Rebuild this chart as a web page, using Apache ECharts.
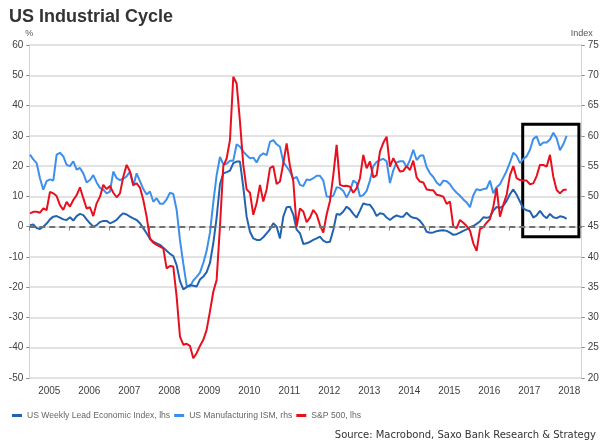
<!DOCTYPE html>
<html>
<head>
<meta charset="utf-8">
<script src="https://cdn.jsdelivr.net/npm/echarts@6/dist/echarts.min.js"></script>
<style>
html,body{margin:0;padding:0;background:#fff;}
#c{width:608px;height:448px;}
</style>
</head>
<body>
<div id="c"></div>
<script>
// Monthly observations, Jan 2005 .. Jun 2018
var startYear = 2005;
var yearLabels = [2005,2006,2007,2008,2009,2010,2011,2012,2013,2014,2015,2016,2017,2018];

// US Weekly Lead Economic Index, % (lhs)
var leiValues = [
 0.5,0.7,-0.5,-0.8,0,1,2.4,3.3,3.5,3,2.4,2.2,
 3.1,2,3.5,4.2,3.8,2.4,1.1,0,0.5,1.5,1.9,1.9,
 1.1,1.6,2.2,3.5,4.4,4,3.3,2.7,2.2,1.1,-0.5,-2.2,
 -4,-5,-5.5,-6,-7,-8,-9,-9.7,-12.7,-18,-20.7,-20,
 -19.3,-19.5,-19.8,-17.5,-16.5,-15,-12,-5.5,3,14,17.6,18,
 18.5,21,21.5,21.5,13,3.3,-1.7,-3.9,-4.4,-4.4,-3.5,-2.2,
 -0.9,1.1,0,-3.9,3.3,6.4,6.6,4,-1,-2.2,-5.7,-5.5,
 -5,-4.4,-3.9,-3.3,-4.6,-5.2,-5,-1.1,4.2,3.9,5,6.6,
 5.7,4.2,3,5.3,7.7,7.3,7.2,5.7,3.5,4.4,4.2,3,
 2.2,3.1,3.7,3.3,3.3,4.6,3.5,2.9,2.8,1.9,0.5,-1.7,
 -2,-1.9,-1.5,-1.3,-1.2,-1.4,-2,-2.7,-2.5,-2,-1.4,-0.9,
 -0.2,0.2,0.9,1.7,3.1,2.9,3.2,5.3,6.5,6.2,6.9,8.5,
 10.7,12.3,10.5,8.3,6,5.4,5.1,3,3.7,5.2,3.7,2.8,
 4.2,3.1,2.8,3.4,3.2,2.6
];

// US Manufacturing ISM, index (rhs)
var ismValues = [
 56.9,56.1,55.5,53,51.1,52.5,52.8,52.6,56.9,57.2,56.6,55.2,
 55,55.8,54.4,54.7,53.8,52.3,52.7,53.5,52.3,51.4,51.1,50.5,
 50.8,54.1,53,52.7,52.9,53.3,54.1,51.7,53.8,52.5,51.2,50.3,
 50.8,49.1,49.7,48.8,48.8,49.5,50.6,50.4,47.8,42.8,38.9,35.3,
 35.1,36.1,36.7,37.4,39,41,44,49,53.5,56.5,55.3,55.4,
 55.9,55.9,58.6,58.2,57.4,56.8,56.3,56.4,55.6,56.7,57.1,56.8,
 59,59.3,58.6,58.2,55.7,54.9,54.1,52.9,53.2,51.9,51.7,52.8,
 52.7,53,53.4,53.4,52.6,50,49.9,50.1,51.5,51.4,50.9,49.8,
 50.9,52.6,52.2,50,50.2,50.9,52.6,55,55.7,56,56.2,55.8,
 52.2,54.3,55.6,55.8,55.8,54.8,56,57.7,56,56.7,56.8,54.8,
 53.8,53.2,52.3,51.8,52.6,52.5,52,51.2,50.6,50.1,49.5,49,
 48.2,50.2,51.2,51,51.2,51.3,52.6,50.5,51.5,52,53.1,54.2,
 55.6,57.2,56.7,55.5,56.2,56.6,57.7,59.5,59.9,58.4,58.9,58.9,
 59.4,60.5,59.6,57.6,58.6,60
];

// S&P 500, % y/y (lhs)
var spxValues = [
 4.4,4.9,4.9,4.6,6,5.5,11.5,11,10.1,7.1,5.5,8.2,
 6.6,8.8,10.4,13,9.4,6,6.4,3.5,7.7,9.9,13.8,12.4,
 13.4,11.2,9.7,11,16.5,20.4,18.2,13.8,14.3,12.9,8.8,3.3,
 -4,-5.3,-6,-6.6,-7.2,-13.8,-13,-13.2,-23.1,-36.3,-39,-38.7,
 -39.4,-43.5,-41.8,-39.4,-37.4,-34.1,-28,-21.5,-17.6,0,20,22.5,
 28.6,49.5,47.3,34.7,20.4,12.3,11.2,3.9,7.7,13.8,8.3,12.3,
 19.3,20,14.1,14.9,20.9,27.5,20,15,0,6,5,1.5,
 3,5.5,4,0.5,-2,4,8.5,17,27,13.8,13.4,13.5,
 13.2,11.2,12.7,16,23.7,19.3,21.5,16.3,17,24.8,27.7,29.7,
 19.8,22.6,20.4,18.2,18.4,20,18.7,21.8,16.3,14.9,14.6,12.3,
 12.1,12,10.5,10.3,9.9,7.5,8.3,0,-0.5,2.2,1.3,0.2,
 -1.3,-5.5,-8,-0.8,-0.2,1.3,2.5,6.6,12.7,3.3,7.2,10.5,
 17,20,16,15.4,15.2,15.2,14,14.3,16.7,20.4,20.4,19.8,
 23.7,16.5,12.1,11,12.1,12.3
];

// highlighted window (years on x, % on lhs)
var boxX = [2017.335, 2018.74];
var boxY = [-3.3, 33.8];

function toPairs(arr){
  return arr.map(function(v,i){ return [startYear + (i + 0.2)/12, v]; });
}

var tickYears = yearLabels.slice();
var labelYears = yearLabels.map(function(y){ return y + 0.5; });

var chart = echarts.init(document.getElementById('c'), null, {renderer:'canvas'});
var axisLabelColor = '#404040';
var option = {
  animation: false,
  backgroundColor: '#fff',
  title: {
    text: 'US Industrial Cycle',
    left: 4, top: 3,
    textStyle: {fontFamily: 'Liberation Sans', fontWeight: 'bold', fontSize: 18, color: '#333'}
  },
  grid: {left: 29.3, right: 26.3, top: 45, bottom: 70},
  legend: {
    left: 7, top: 406,
    icon: 'rect', itemWidth: 10, itemHeight: 3, itemGap: 4,
    textStyle: {fontFamily: 'Liberation Sans', fontSize: 8.6, color: '#666'},
    data: ['US Weekly Lead Economic Index, lhs', 'US Manufacturing ISM, rhs', 'S&P 500, lhs']
  },
  xAxis: {
    type: 'value', min: 2005, max: 2018.81,
    axisLine: {show: false},
    splitLine: {show: false},
    axisTick: {show: true, customValues: tickYears, length: 4, lineStyle: {color: '#888'}},
    axisLabel: {customValues: labelYears, formatter: function(v){ return String(Math.floor(v)); },
      fontFamily: 'Liberation Sans', fontSize: 10, color: axisLabelColor, margin: 8}
  },
  yAxis: [
    {
      type: 'value', min: -50, max: 60, interval: 10, position: 'left',
      name: '%', nameLocation: 'end', nameGap: 7,
      nameTextStyle: {fontFamily: 'Liberation Sans', fontSize: 9, color: '#555', align: 'center'},
      axisLine: {show: true, lineStyle: {color: '#d4d4d4', width: 1}},
      axisTick: {show: true, length: 3, lineStyle: {color: '#888'}},
      axisLabel: {fontFamily: 'Liberation Sans', fontSize: 10, color: axisLabelColor, margin: 6},
      splitLine: {show: true, lineStyle: {color: '#d9d9d9', width: 1.5}}
    },
    {
      type: 'value', min: 20, max: 75, interval: 5, position: 'right',
      name: 'Index', nameLocation: 'end', nameGap: 7,
      nameTextStyle: {fontFamily: 'Liberation Sans', fontSize: 9, color: '#555', align: 'center'},
      axisLine: {show: true, lineStyle: {color: '#d4d4d4', width: 1}},
      axisTick: {show: true, length: 3, lineStyle: {color: '#888'}},
      axisLabel: {fontFamily: 'Liberation Sans', fontSize: 10, color: axisLabelColor, margin: 6},
      splitLine: {show: false}
    }
  ],
  series: [
    {
      name: 'US Manufacturing ISM, rhs', type: 'line', yAxisIndex: 1,
      data: toPairs(ismValues), showSymbol: false, symbol: 'none',
      lineStyle: {color: '#3d8fec', width: 2}, itemStyle: {color: '#3d8fec'}
    },
    {
      name: 'US Weekly Lead Economic Index, lhs', type: 'line', yAxisIndex: 0,
      data: toPairs(leiValues), showSymbol: false, symbol: 'none',
      lineStyle: {color: '#2263b0', width: 2}, itemStyle: {color: '#2263b0'},
      markLine: {
        silent: true, symbol: 'none', label: {show: false},
        lineStyle: {color: '#707070', type: [6,4], width: 2},
        data: [{yAxis: 0}]
      }
    },
    {
      name: 'S&P 500, lhs', type: 'line', yAxisIndex: 0,
      data: toPairs(spxValues), showSymbol: false, symbol: 'none',
      lineStyle: {color: '#e8101e', width: 2}, itemStyle: {color: '#e8101e'},
      markArea: {
        silent: true,
        itemStyle: {color: 'rgba(0,0,0,0)', borderColor: '#000', borderWidth: 3},
        data: [[{coord: [boxX[0], boxY[1]]}, {coord: [boxX[1], boxY[0]]}]]
      }
    }
  ],
  graphic: [
    {
      type: 'text', right: 12, top: 430,
      style: {text: 'Source: Macrobond, Saxo Bank Research & Strategy',
        font: '10px "DejaVu Sans"', fill: '#333'}
    }
  ]
};
chart.setOption(option);
</script>
</body>
</html>
